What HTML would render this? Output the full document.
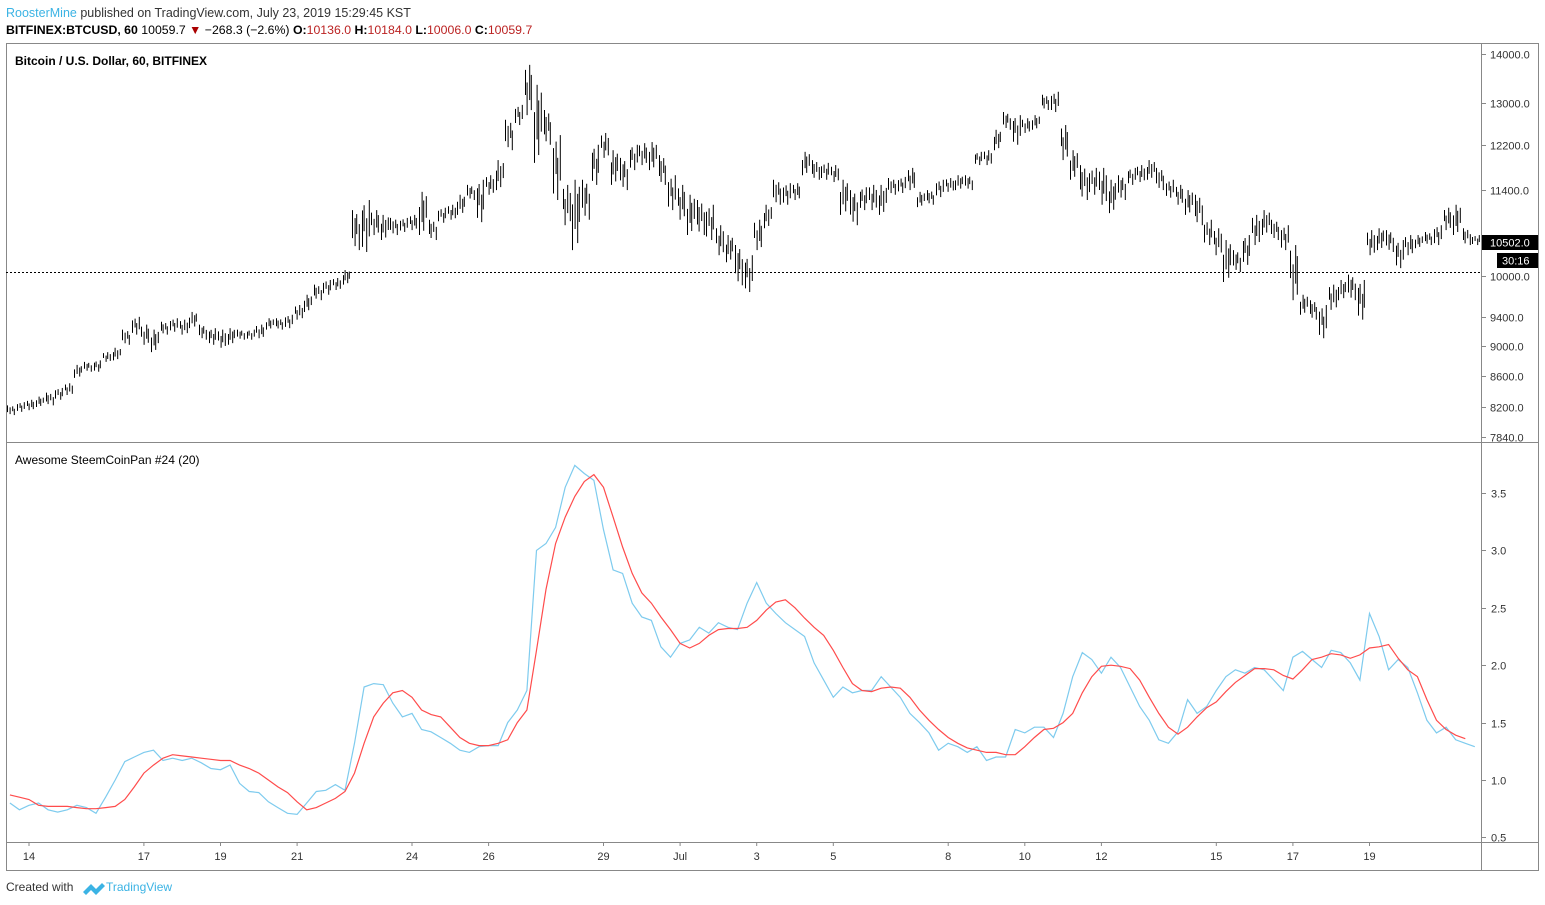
<!DOCTYPE html>
<html><head><meta charset="utf-8"><style>
body{margin:0;background:#fff;font-family:"Liberation Sans",sans-serif;}
svg{display:block}
</style></head><body>
<svg id="chart" width="1545" height="905" xmlns="http://www.w3.org/2000/svg">
<rect x="0" y="0" width="1545" height="905" fill="#fff"/>
<text x="6" y="17" font-size="12.5" fill="#333"><tspan fill="#3bb3e4">RoosterMine</tspan> published on TradingView.com, July 23, 2019 15:29:45 KST</text>
<text x="6" y="34" font-size="12.3" fill="#000"><tspan font-weight="bold">BITFINEX:BTCUSD, 60</tspan> 10059.7 <tspan fill="#a00">▼</tspan> −268.3 (−2.6%) <tspan font-weight="bold">O:</tspan><tspan fill="#b22">10136.0</tspan> <tspan font-weight="bold">H:</tspan><tspan fill="#b22">10184.0</tspan> <tspan font-weight="bold">L:</tspan><tspan fill="#b22">10006.0</tspan> <tspan font-weight="bold">C:</tspan><tspan fill="#b22">10059.7</tspan></text>
<rect x="6.5" y="43.5" width="1532" height="827" fill="none" stroke="#888"/>
<line x1="1481.5" y1="44" x2="1481.5" y2="870" stroke="#888"/>
<line x1="6" y1="442.5" x2="1538" y2="442.5" stroke="#888"/>
<line x1="6" y1="842.5" x2="1538" y2="842.5" stroke="#888"/>
<text x="15" y="65" font-size="12" font-weight="bold" fill="#000">Bitcoin / U.S. Dollar, 60, BITFINEX</text>
<text x="15" y="464" font-size="12" fill="#000">Awesome SteemCoinPan #24 (20)</text>
<line x1="6" y1="272.5" x2="1481" y2="272.5" stroke="#000" stroke-dasharray="2,2"/>
<g id="bars"></g><g id="ind"></g><g id="axes"></g>
<rect x="1482" y="235" width="56" height="15" fill="#000"/>
<text x="1490" y="246.5" font-size="11" fill="#fff">10502.0</text>
<rect x="1497" y="253" width="41" height="15" fill="#000"/>
<text x="1502" y="264.5" font-size="11" fill="#fff">30:16</text>
<text x="6" y="891" font-size="12" fill="#333">Created with</text>
<g><path d="M83 892 l8 -8 l5 5 l6 -6 l3 3 l-9 9 l-5 -5 l-5 5z" fill="#3bb3e4"/><text x="106" y="891" font-size="12" fill="#3bb3e4">TradingView</text></g>
</svg>
<script>
const priceHi=[8220,8260,8290,8330,8380,8440,8500,8740,8780,8800,8910,8970,9220,9400,9290,9220,9330,9380,9360,9470,9290,9240,9220,9240,9220,9220,9290,9380,9380,9430,9570,9720,9870,9940,9970,10090,11050,11220,11050,10970,10920,10920,10970,11360,10890,11090,11140,11310,11480,11570,11650,11920,12670,12960,13770,13360,12860,12380,11480,11570,11570,12200,12420,12100,11960,12200,12230,12250,12010,11650,11480,11310,11220,11140,10800,10640,10480,10320,10890,11140,11570,11510,11510,12070,11920,11870,11830,11570,11390,11440,11480,11480,11600,11620,11780,11360,11390,11570,11600,11650,11650,12070,12100,12480,12820,12760,12700,12760,13160,13220,12570,12100,11830,11780,11780,11570,11650,11780,11830,11920,11780,11570,11480,11390,11310,10890,10750,10560,10400,10640,10970,11050,10890,10800,10480,9720,9640,9570,9870,9940,10020,9940,10720,10750,10720,10560,10640,10640,10690,10800,11090,11140,10750,10640];
const priceLo=[8100,8140,8160,8200,8220,8290,8350,8570,8650,8650,8780,8800,9010,9150,9010,8910,9150,9190,9150,9240,9080,9010,8970,9010,9080,9080,9100,9220,9220,9240,9360,9470,9640,9720,9790,9870,10400,10370,10640,10560,10640,10690,10720,10640,10560,10840,10890,10970,11220,10850,11310,11390,12100,12570,12760,11870,12200,11220,10800,10400,10890,11480,11960,11480,11390,11740,11830,11740,11480,11050,10890,10640,10640,10560,10320,10210,9860,9760,10400,10750,11140,11140,11220,11650,11570,11570,11530,10970,10800,11050,11050,10970,11310,11340,11390,11100,11140,11270,11360,11390,11390,11830,11830,12100,12480,12200,12420,12480,12860,12820,11920,11570,11220,11310,11140,11000,11220,11480,11530,11570,11390,11260,11140,10970,10800,10480,10320,9910,10060,10170,10480,10640,10560,10400,9640,9430,9360,9100,9500,9640,9640,9360,10320,10400,10370,10120,10320,10430,10480,10480,10720,10640,10480,10480];
const oscFast=[0.80,0.74,0.78,0.80,0.74,0.72,0.74,0.78,0.76,0.71,0.85,1.00,1.16,1.20,1.24,1.26,1.17,1.19,1.17,1.19,1.15,1.10,1.09,1.13,0.97,0.90,0.89,0.81,0.76,0.71,0.70,0.80,0.90,0.91,0.96,0.91,1.32,1.81,1.84,1.83,1.67,1.55,1.58,1.44,1.42,1.37,1.32,1.26,1.24,1.29,1.30,1.30,1.50,1.61,1.78,3.00,3.06,3.20,3.55,3.74,3.67,3.61,3.18,2.83,2.80,2.54,2.42,2.39,2.16,2.07,2.19,2.22,2.33,2.28,2.37,2.33,2.31,2.54,2.72,2.54,2.45,2.37,2.31,2.25,2.02,1.87,1.72,1.81,1.76,1.78,1.78,1.90,1.81,1.72,1.58,1.50,1.41,1.26,1.32,1.29,1.24,1.29,1.17,1.20,1.20,1.44,1.41,1.46,1.46,1.37,1.58,1.90,2.11,2.05,1.93,2.07,1.98,1.81,1.64,1.52,1.35,1.32,1.42,1.70,1.58,1.64,1.78,1.90,1.96,1.93,1.98,1.96,1.87,1.78,2.07,2.12,2.05,1.98,2.13,2.11,2.02,1.87,2.45,2.25,1.96,2.05,1.98,1.76,1.52,1.41,1.46,1.35,1.32,1.29];
const oscSlow=[0.87,0.85,0.83,0.78,0.77,0.77,0.77,0.76,0.75,0.75,0.76,0.77,0.83,0.94,1.06,1.13,1.19,1.22,1.21,1.20,1.19,1.18,1.17,1.17,1.13,1.10,1.06,1.00,0.94,0.89,0.81,0.74,0.76,0.80,0.84,0.90,1.06,1.32,1.55,1.67,1.76,1.78,1.72,1.61,1.57,1.55,1.46,1.37,1.32,1.30,1.30,1.32,1.35,1.50,1.61,2.13,2.66,3.06,3.29,3.47,3.60,3.66,3.55,3.29,3.03,2.80,2.63,2.54,2.42,2.31,2.19,2.15,2.19,2.26,2.31,2.32,2.32,2.33,2.39,2.48,2.55,2.57,2.50,2.41,2.33,2.26,2.13,1.98,1.84,1.78,1.77,1.80,1.81,1.80,1.72,1.61,1.52,1.44,1.37,1.32,1.28,1.26,1.24,1.24,1.22,1.22,1.29,1.37,1.44,1.45,1.50,1.58,1.76,1.90,1.99,2.00,1.99,1.97,1.87,1.72,1.58,1.46,1.40,1.46,1.55,1.63,1.68,1.77,1.85,1.91,1.97,1.97,1.96,1.91,1.88,1.96,2.05,2.07,2.10,2.09,2.06,2.09,2.15,2.16,2.18,2.06,1.96,1.90,1.70,1.52,1.44,1.39,1.36];
const priceTicks=[14000,13000,12200,11400,10000,9400,9000,8600,8200,7840];
const oscTicks=[3.5,3.0,2.5,2.0,1.5,1.0,0.5];
const dateLabels=["14","17","19","21","24","26","29","Jul","3","5","8","10","12","15","17","19"];
const dateDays=[0,3,5,7,10,12,15,17,19,21,24,26,28,31,33,35];
const NS="http://www.w3.org/2000/svg";
const xOfDay=d=>29+38.3*d;
const xOfBar=i=>xOfDay(-0.5+0.25*i);
const yPrice=p=>276-660*Math.log(p/10000);
const yOsc=v=>780-114.8*(v-1);
function mk(tag,attrs,parent){const e=document.createElementNS(NS,tag);for(const k in attrs)e.setAttribute(k,attrs[k]);parent.appendChild(e);return e;}
const subA=[0,0.2,0.1,0.35],subB=[0.7,0.9,0.6,1];
const bars=document.getElementById('bars');


for(let i=0;i<priceHi.length;i++){
  const x=xOfBar(i),yh=yPrice(priceHi[i]),yl=yPrice(priceLo[i]),r=yl-yh;
  for(let k=0;k<4;k++){
    const xx=Math.round(x-2.4+k*1.6*1.0)+0.5+k*0.6;
    const l=mk('line',{x1:xx,x2:xx,y1:yh+r*subA[(k+i)%4],y2:yh+r*subB[(k+i)%4],stroke:'#000','stroke-width':1},bars);
    
    
  }
}
const ind=document.getElementById('ind');


function line(arr,color,name){
  const pts=arr.map((v,i)=>xOfBar(i).toFixed(1)+','+yOsc(v).toFixed(1)).join(' ');
  const p=mk('polyline',{points:pts,fill:'none',stroke:color,'stroke-width':1.2},ind);
  
  
}
line(oscFast,'#7ecbee','fast-line');
line(oscSlow,'#ff4c4c','signal-line');
const axes=document.getElementById('axes');


priceTicks.forEach(p=>{
  const y=Math.round(yPrice(p))+0.5;
  mk('line',{x1:1481,x2:1486,y1:y,y2:y,stroke:'#888'},axes);
  const t=mk('text',{x:1490,y:y+4,'font-size':11,fill:'#333'},axes);
  t.textContent=p.toFixed(1);
  
  
});
oscTicks.forEach(v=>{
  const y=Math.round(yOsc(v))+0.5;
  mk('line',{x1:1481,x2:1486,y1:y,y2:y,stroke:'#888'},axes);
  const t=mk('text',{x:1491,y:y+4,'font-size':11,fill:'#333'},axes);
  t.textContent=v.toFixed(1);
  
  
});
dateLabels.forEach((s,i)=>{
  const x=xOfDay(dateDays[i]);
  mk('line',{x1:x,x2:x,y1:842,y2:846,stroke:'#888'},axes);
  const t=mk('text',{x:x,y:860,'font-size':11,fill:'#333','text-anchor':'middle'},axes);
  t.textContent=s;
  
  
});
</script>
</body></html>
